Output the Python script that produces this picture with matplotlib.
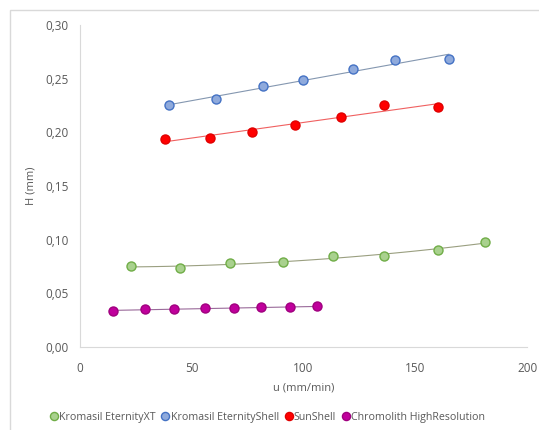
import numpy as np
import matplotlib.pyplot as plt
from matplotlib.patches import Rectangle

# data
u_xt = [23, 45, 67, 91, 113, 136, 160, 181]
h_xt = [0.075, 0.074, 0.078, 0.079, 0.085, 0.085, 0.090, 0.098]

u_shell = [40, 61, 82, 100, 122, 141, 165]
h_shell = [0.225, 0.231, 0.243, 0.249, 0.259, 0.267, 0.268]

u_sun = [38, 58, 77, 96, 117, 136, 160]
h_sun = [0.194, 0.195, 0.200, 0.207, 0.214, 0.225, 0.224]

u_chromo = [15, 29, 42, 56, 69, 81, 94, 106]
h_chromo = [0.034, 0.035, 0.035, 0.036, 0.036, 0.037, 0.037, 0.038]

names = ['Kromasil EternityXT', 'Kromasil EternityShell', 'SunShell',
         'Chromolith HighResolution']

plt.rcParams['font.family'] = ['Open Sans', 'DejaVu Sans']

fig = plt.figure(figsize=(5.39, 4.30), dpi=100)
ax = fig.add_axes([0.148, 0.193, 0.83, 0.749])

# outer chart frame (only top and left edges are visible in the crop)
fig.patches.append(Rectangle((10 / 539, -0.1), 1.2, 1 - 10 / 430 + 0.1,
                             transform=fig.transFigure, fill=False,
                             edgecolor='#d9d9d9', linewidth=1.0))

series = [
    (u_xt, h_xt, '#a9d18e', '#70ad47', '#9a9f80', 2),
    (u_shell, h_shell, '#8faadc', '#4472c4', '#8497b0', 1),
    (u_sun, h_sun, '#ff0000', '#e00000', '#f06060', 1),
    (u_chromo, h_chromo, '#c0009c', '#a0007f', '#9a6a9a', 1),
]

for (u, h, fc, ec, lc, deg), name in zip(series, names):
    u = np.array(u)
    h = np.array(h)
    fit = np.poly1d(np.polyfit(u, h, deg))
    xs = np.linspace(u.min(), u.max(), 100)
    ax.plot(xs, fit(xs), color=lc, linewidth=0.8, zorder=2)
    ax.plot(u, h, 'o', markersize=6.5, markerfacecolor=fc,
            markeredgecolor=ec, markeredgewidth=1.0, label=name, zorder=3)

ax.set_xlim(0, 200)
ax.set_ylim(0, 0.30)
ax.set_xticks([0, 50, 100, 150, 200])
ax.set_yticks(np.arange(0, 0.31, 0.05))
ax.set_yticklabels([f'{v:.2f}'.replace('.', ',') for v in np.arange(0, 0.31, 0.05)])

for s in ['top', 'right']:
    ax.spines[s].set_visible(False)
for s in ['left', 'bottom']:
    ax.spines[s].set_color('#d9d9d9')
ax.tick_params(length=0, labelsize=8.5, colors='#595959')
ax.tick_params(axis='x', pad=11)
ax.tick_params(axis='y', pad=8)

ax.set_xlabel('u (mm/min)', fontsize=8, color='#595959', labelpad=5)
ax.set_ylabel('H (mm)', fontsize=8, color='#595959', labelpad=6)

fig.legend(loc='center', bbox_to_anchor=(0.495, 0.03), ncol=4, frameon=False,
           fontsize=7.7, labelcolor='#595959', handletextpad=0.0,
           columnspacing=0.4, handlelength=1.0, markerscale=0.9)

fig.savefig('out.png', dpi=100)
